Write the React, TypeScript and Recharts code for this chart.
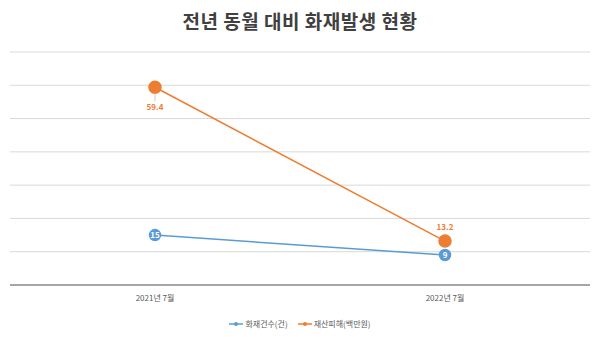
import React from "react";
import {
  LineChart,
  Line,
  XAxis,
  YAxis,
  CartesianGrid,
  LabelList,
} from "recharts";

const months = ["2021년 7월", "2022년 7월"];
const fireCounts = [15, 9];
const propertyDamage = [59.4, 13.2];
const yTicks = [0, 10, 20, 30, 40, 50, 60, 70];

const BLUE = "#5b9bd5";
const ORANGE = "#ed7d31";
const FONT = "'Noto Sans CJK KR', 'Noto Sans', sans-serif";

const rows = months.map((m, i) => ({
  month: m,
  count: fireCounts[i],
  damage: propertyDamage[i],
}));

// white number inside the blue marker
const CountLabel = (props: any) => {
  const { x, y, value } = props;
  return (
    <text
      x={x}
      y={y}
      dy={3}
      textAnchor="middle"
      fill="#fff"
      fontSize={8}
      fontWeight={700}
      fontFamily={FONT}
    >
      {value}
    </text>
  );
};

// orange value with a small leader line: below the first point, above the last
const DamageLabel = (props: any) => {
  const { x, y, value, index } = props;
  const below = index === 0;
  const ty = below ? y + 23 : y - 11;
  return (
    <g>
      <line
        x1={x}
        y1={below ? y + 6 : y - 6}
        x2={x}
        y2={below ? y + 14 : y - 8}
        stroke="#bfbfbf"
        strokeWidth={0.8}
      />
      <text
        x={x}
        y={ty}
        textAnchor="middle"
        fill={ORANGE}
        fontSize={8}
        fontWeight={700}
        fontFamily={FONT}
      >
        {value}
      </text>
    </g>
  );
};

const LegendBox = () => {
  const items = [
    { label: "화재건수(건)", color: BLUE },
    { label: "재산피해(백만원)", color: ORANGE },
  ];
  return (
    <div
      style={{
        position: "absolute",
        top: 318,
        left: 0,
        width: 600,
        display: "flex",
        justifyContent: "center",
        gap: 10,
        fontFamily: FONT,
        fontSize: 8,
        color: "#595959",
      }}
    >
      {items.map((it) => (
        <span key={it.label} style={{ display: "flex", alignItems: "center", gap: 2 }}>
          <svg width={14} height={6}>
            <line x1={0} y1={3} x2={14} y2={3} stroke={it.color} strokeWidth={1.5} />
            <circle cx={7} cy={3} r={2} fill={it.color} />
          </svg>
          {it.label}
        </span>
      ))}
    </div>
  );
};

export default function App() {
  return (
    <div
      style={{
        position: "absolute",
        left: 0,
        top: 0,
        width: 600,
        height: 337,
        background: "#fff",
      }}
    >
      <div
        style={{
          position: "absolute",
          top: 7,
          width: 600,
          textAlign: "center",
          fontFamily: FONT,
          fontWeight: 700,
          fontSize: 19,
          color: "#404040",
          letterSpacing: 0.5,
        }}
      >
        전년 동월 대비 화재발생 현황
      </div>
      <LineChart
        width={600}
        height={337}
        data={rows}
        margin={{ top: 52, right: 10, bottom: 22, left: 10 }}
      >
        <CartesianGrid vertical={false} stroke="#d9d9d9" />
        <XAxis
          dataKey="month"
          height={30}
          padding={{ left: 145, right: 145 }}
          tickLine={false}
          axisLine={{ stroke: "#a6a6a6", strokeWidth: 2 }}
          tick={{ fontSize: 8, fill: "#595959", fontFamily: FONT }}
          tickMargin={4}
        />
        <YAxis hide domain={[0, 70]} ticks={yTicks} />
        <Line
          dataKey="count"
          stroke={BLUE}
          strokeWidth={1.5}
          dot={{ r: 5.5, fill: BLUE, stroke: BLUE }}
          isAnimationActive={false}
        >
          <LabelList dataKey="count" content={<CountLabel />} />
        </Line>
        <Line
          dataKey="damage"
          stroke={ORANGE}
          strokeWidth={1.5}
          dot={{ r: 6, fill: ORANGE, stroke: ORANGE }}
          isAnimationActive={false}
        >
          <LabelList dataKey="damage" content={<DamageLabel />} />
        </Line>
      </LineChart>
      <LegendBox />
    </div>
  );
}
